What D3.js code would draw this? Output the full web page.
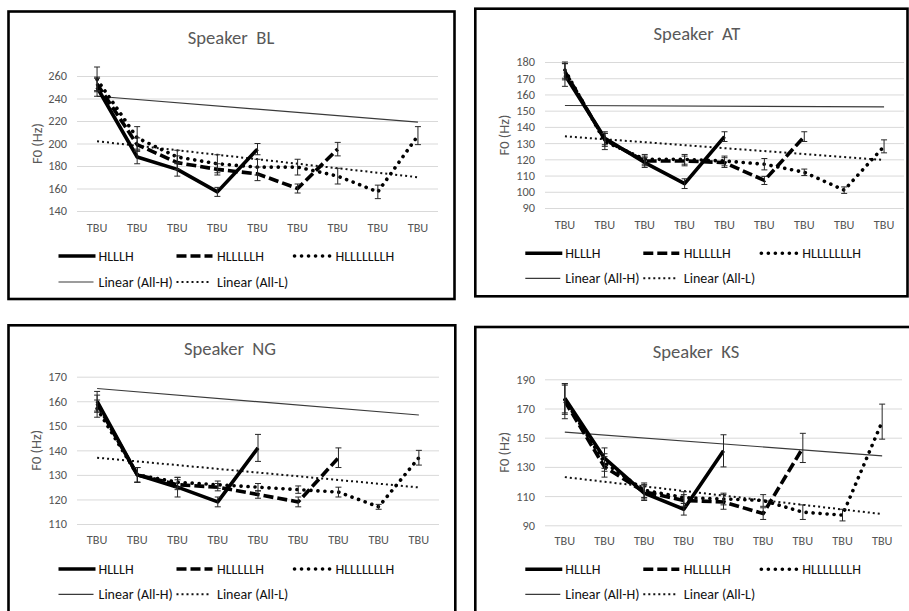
<!DOCTYPE html>
<html>
<head>
<meta charset="utf-8">
<script src="https://cdn.jsdelivr.net/npm/d3@7/dist/d3.min.js"></script>
<style>
  html, body { margin: 0; padding: 0; background: #fff; }
  svg { display: block; }
  text { font-family: Carlito, Calibri, Lato, "Open Sans", sans-serif; }
</style>
</head>
<body>
<svg id="chart" width="909" height="611"></svg>
<script>
// ---- categories and series names ----
const categories = ["TBU", "TBU", "TBU", "TBU", "TBU", "TBU", "TBU", "TBU", "TBU"];
const seriesNames = ["HLLLH", "HLLLLLH", "HLLLLLLLH"];
const trendNames = ["Linear (All-H)", "Linear (All-L)"];

// ---- Speaker BL (F0 in Hz, error = half bar length) ----
const blTicks = [140, 160, 180, 200, 220, 240, 260];
const blHLLLH = [250, 188, 177, 157, 195];
const blHLLLHErr = [8, 6, 6, 4, 5];
const blHLLLLLH = [253, 199, 183, 177, 173, 160, 195];
const blHLLLLLHErr = [6, 6, 6, 5, 6, 4, 6];
const blHLLLLLLLH = [257, 205, 188, 182, 179, 179, 171, 157, 207];
const blHLLLLLLLHErr = [11, 10, 6, 8, 7, 7, 7, 6, 8];
const blAllH = [242, 219];
const blAllL = [202, 170];

// ---- Speaker AT ----
const atTicks = [90, 100, 110, 120, 130, 140, 150, 160, 170, 180];
const atHLLLH = [172, 133, 118, 105, 134];
const atHLLLHErr = [7, 4, 3, 3, 3];
const atHLLLLLH = [174, 132, 119, 119, 118, 107, 134];
const atHLLLLLHErr = [5, 4, 3, 3, 3, 2.5, 3];
const atHLLLLLLLH = [175, 131, 120, 120, 119, 117, 112, 101, 128];
const atHLLLLLLLHErr = [5, 5, 3, 3, 3, 3.5, 2, 2, 4];
const atAllH = [153.2, 152.3];
const atAllL = [134.2, 119.6];

// ---- Speaker NG ----
const ngTicks = [110, 120, 130, 140, 150, 160, 170];
const ngHLLLH = [160, 130, 125, 119, 141];
const ngHLLLHErr = [4, 3, 4, 2, 5.5];
const ngHLLLLLH = [159, 130, 126, 125, 122, 119, 137];
const ngHLLLLLHErr = [3.5, 3, 2, 1.5, 1.5, 2, 4];
const ngHLLLLLLLH = [157, 130, 127, 126, 125, 124, 123, 117, 137];
const ngHLLLLLLLHErr = [3.5, 3, 2, 1.5, 1.5, 1.5, 2, 1, 3];
const ngAllH = [165.2, 154.4];
const ngAllL = [137, 124.9];

// ---- Speaker KS ----
const ksTicks = [90, 110, 130, 150, 170, 190];
const ksHLLLH = [177, 136, 112, 101, 141];
const ksHLLLHErr = [10, 7, 5, 4, 11];
const ksHLLLLLH = [175, 130, 113, 107, 106, 98, 143];
const ksHLLLLLHErr = [12, 7, 5, 4, 5, 4, 10];
const ksHLLLLLLLH = [176, 133, 114, 109, 108, 107, 99, 97, 161];
const ksHLLLLLLLHErr = [10, 6, 5, 4, 4, 4, 5, 4, 12];
const ksAllH = [153.8, 137.6];
const ksAllL = [123, 97.7];

// ---- line styles for the three series and two trend lines ----
const seriesStyle = [
  { width: 3.6, dash: null, cap: "butt" },
  { width: 3.6, dash: "10 4", cap: "butt" },
  { width: 3.6, dash: "0.1 6.9", cap: "round" }
];
const trendStyle = [
  { width: 1.2, dash: null, cap: "butt", color: "#3a3a3a" },
  { width: 2, dash: "2 3", cap: "butt", color: "#111" }
];

// ---- panel layouts ----
const panels = [
  {
    title: "Speaker  BL", box: [8.5, 11.5, 454.5, 299], titleX: 231,
    plot: [77, 438, 76, 211], ticks: blTicks,
    series: [[blHLLLH, blHLLLHErr], [blHLLLLLH, blHLLLLLHErr], [blHLLLLLLLH, blHLLLLLLLHErr]],
    trends: [blAllH, blAllL],
    titleY: 37, yTitleX: 37, tbuY: 228, legY: [256, 282]
  },
  {
    title: "Speaker  AT", box: [475.3, 8.7, 907.5, 296.3], titleX: 697,
    plot: [545, 904, 62, 208], ticks: atTicks,
    series: [[atHLLLH, atHLLLHErr], [atHLLLLLH, atHLLLLLHErr], [atHLLLLLLLH, atHLLLLLLLHErr]],
    trends: [atAllH, atAllL],
    titleY: 33.5, yTitleX: 503.5, tbuY: 224.5, legY: [253.3, 278.3]
  },
  {
    title: "Speaker  NG", box: [8.5, 325.3, 455.3, 620], titleX: 230,
    plot: [77, 439, 376.7, 524], ticks: ngTicks,
    series: [[ngHLLLH, ngHLLLHErr], [ngHLLLLLH, ngHLLLLLHErr], [ngHLLLLLLLH, ngHLLLLLLLHErr]],
    trends: [ngAllH, ngAllL],
    titleY: 348.5, yTitleX: 36, tbuY: 540, legY: [569, 594.3]
  },
  {
    title: "Speaker  KS", box: [475.3, 327, 920, 620], titleX: 696,
    plot: [545, 902, 379.3, 525.3], ticks: ksTicks,
    series: [[ksHLLLH, ksHLLLHErr], [ksHLLLLLH, ksHLLLLLHErr], [ksHLLLLLLLH, ksHLLLLLLLHErr]],
    trends: [ksAllH, ksAllL],
    titleY: 351, yTitleX: 503.5, tbuY: 541, legY: [569.3, 594.3]
  }
];

const svg = d3.select("#chart");
svg.append("rect").attr("width", 909).attr("height", 611).attr("fill", "#fff");

function applyStroke(sel, st, color) {
  sel.attr("fill", "none")
    .attr("stroke", color || "#000")
    .attr("stroke-width", st.width)
    .attr("stroke-linecap", st.cap)
    .attr("stroke-linejoin", "round");
  if (st.dash) sel.attr("stroke-dasharray", st.dash);
  return sel;
}

panels.forEach(p => {
  const [bx0, by0, bx1, by1] = p.box;
  const [px0, px1, py0, py1] = p.plot;
  const g = svg.append("g");

  const x = d3.scaleBand().domain(d3.range(categories.length)).range([px0, px1]);
  const xc = i => x(i) + x.bandwidth() / 2;
  const y = d3.scaleLinear().domain([p.ticks[0], p.ticks[p.ticks.length - 1]]).range([py1, py0]);

  // title
  g.append("text")
    .attr("x", p.titleX)
    .attr("y", p.titleY).attr("dy", "0.35em")
    .attr("text-anchor", "middle").attr("fill", "#595959")
    .style("font-size", "18.6px").style("white-space", "pre")
    .text(p.title);

  // y axis with gridlines
  const yAxis = g.append("g").attr("transform", `translate(${px0},0)`)
    .call(d3.axisLeft(y).tickValues(p.ticks).tickSize(-(px1 - px0)).tickPadding(10).tickFormat(d3.format("d")));
  yAxis.select(".domain").remove();
  yAxis.selectAll(".tick line").attr("stroke", "#d9d9d9").attr("stroke-width", 1);
  yAxis.selectAll(".tick text").attr("fill", "#555").style("font-size", "12.3px")
    .style("font-family", "Carlito, Calibri, Lato, sans-serif");

  // y axis title
  g.append("text")
    .attr("transform", `translate(${p.yTitleX},${(py0 + py1) / 2}) rotate(-90)`)
    .attr("text-anchor", "middle").attr("dy", "0.35em")
    .attr("fill", "#595959").style("font-size", "14.5px")
    .text("F0 (Hz)");

  // x axis category labels
  const xAxis = g.append("g").attr("transform", `translate(0,${p.tbuY})`)
    .call(d3.axisBottom(x).tickSize(0).tickPadding(0).tickFormat(i => categories[i]));
  xAxis.select(".domain").remove();
  xAxis.selectAll(".tick text").attr("fill", "#555").attr("dy", "0.35em")
    .style("font-size", "12.3px").style("font-family", "Carlito, Calibri, Lato, sans-serif");

  // trend lines (first to last category)
  p.trends.forEach((t, k) => {
    const pts = [[xc(0), y(t[0])], [xc(categories.length - 1), y(t[1])]];
    applyStroke(g.append("path").attr("d", d3.line()(pts)), trendStyle[k], trendStyle[k].color);
  });

  // series lines
  const line = d3.line().x((d, i) => xc(i)).y(d => y(d));
  p.series.forEach(([vals], k) => {
    applyStroke(g.append("path").attr("d", line(vals)), seriesStyle[k], "#000");
  });

  // error bars
  p.series.forEach(([vals, errs]) => {
    vals.forEach((v, i) => {
      const cx = xc(i), e = errs[i];
      const eg = g.append("g").attr("stroke", "#262626").attr("stroke-width", 1);
      eg.append("line").attr("x1", cx).attr("x2", cx).attr("y1", y(v + e)).attr("y2", y(v - e));
      eg.append("line").attr("x1", cx - 3).attr("x2", cx + 3).attr("y1", y(v + e)).attr("y2", y(v + e));
      eg.append("line").attr("x1", cx - 3).attr("x2", cx + 3).attr("y1", y(v - e)).attr("y2", y(v - e));
    });
  });

  // legend
  const lx = bx0;
  const row1 = [
    { s0: 50, s1: 87, t: 90 },
    { s0: 168, s1: 204, t: 208.5 },
    { s0: 286, s1: 322, t: 327 }
  ];
  seriesNames.forEach((name, k) => {
    const r = row1[k];
    applyStroke(g.append("line").attr("x1", lx + r.s0).attr("x2", lx + r.s1)
      .attr("y1", p.legY[0]).attr("y2", p.legY[0]), seriesStyle[k], "#000");
    g.append("text").attr("x", lx + r.t).attr("y", p.legY[0]).attr("dy", "0.35em")
      .attr("fill", "#111").style("font-size", "14px").text(name);
  });
  const row2 = [
    { s0: 50, s1: 85, t: 90 },
    { s0: 168, s1: 201, t: 208.5 }
  ];
  trendNames.forEach((name, k) => {
    const r = row2[k];
    applyStroke(g.append("line").attr("x1", lx + r.s0).attr("x2", lx + r.s1)
      .attr("y1", p.legY[1]).attr("y2", p.legY[1]), trendStyle[k], trendStyle[k].color);
    g.append("text").attr("x", lx + r.t).attr("y", p.legY[1]).attr("dy", "0.35em")
      .attr("fill", "#111").style("font-size", "14px").text(name);
  });

  // panel frame
  g.append("rect").attr("x", bx0).attr("y", by0)
    .attr("width", bx1 - bx0).attr("height", by1 - by0)
    .attr("fill", "none").attr("stroke", "#000").attr("stroke-width", 2.6);
});
</script>
</body>
</html>
